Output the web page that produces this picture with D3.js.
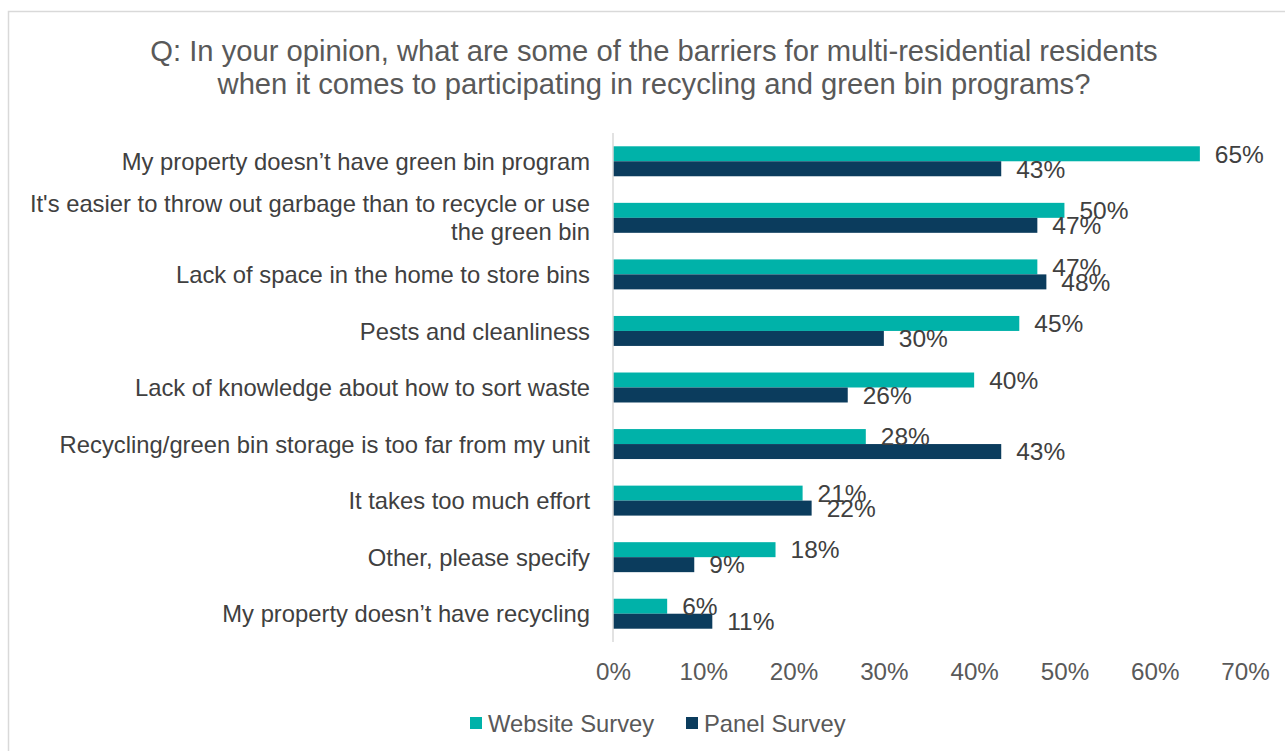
<!DOCTYPE html>
<html>
<head>
<meta charset="utf-8">
<script src="https://cdn.jsdelivr.net/npm/d3@7"></script>
<style>
  html, body { margin: 0; padding: 0; background: #fff; }
  svg { display: block; font-family: "Liberation Sans", Arial, sans-serif; }
</style>
</head>
<body>
<svg id="chart" width="1285" height="751"></svg>
<script>
// Survey responses: barriers to participating in recycling and green bin programs
const categories = [
  "My property doesn\u2019t have green bin program",
  "It's easier to throw out garbage than to recycle or use|the green bin",
  "Lack of space in the home to store bins",
  "Pests and cleanliness",
  "Lack of knowledge about how to sort waste",
  "Recycling/green bin storage is too far from my unit",
  "It takes too much effort",
  "Other, please specify",
  "My property doesn\u2019t have recycling"
];
const websiteSurvey = [65, 50, 47, 45, 40, 28, 21, 18, 6];
const panelSurvey   = [43, 47, 48, 30, 26, 43, 22, 9, 11];
const seriesNames = ["Website Survey", "Panel Survey"];
const seriesColors = ["#00B2A9", "#0B3C5D"];
const xTicks = [0, 10, 20, 30, 40, 50, 60, 70];
const titleLines = [
  "Q: In your opinion, what are some of the barriers for multi-residential residents",
  "when it comes to participating in recycling and green bin programs?"
];

const svg = d3.select("#chart");
const W = 1285, H = 751;
const FS = 23.8;

// chart border
svg.append("rect")
  .attr("x", 8.5).attr("y", 11.5)
  .attr("width", W + 10).attr("height", H + 10)
  .attr("fill", "#fff").attr("stroke", "#d9d9d9").attr("stroke-width", 1.5);

// title
svg.append("g").selectAll("text")
  .data(titleLines).join("text")
  .attr("x", 654).attr("y", (d, i) => 50 + i * 33)
  .attr("dy", "0.36em")
  .attr("text-anchor", "middle")
  .attr("font-size", 29.2)
  .attr("fill", "#595959")
  .text(d => d);

const x = d3.scaleLinear().domain([0, 70]).range([613, 1245]);
const y = d3.scaleBand().domain(d3.range(categories.length)).range([133, 642]).paddingInner(0.47).paddingOuter(0.235);
const sub = d3.scaleBand().domain([0, 1]).range([0, y.bandwidth()]);

const rows = categories.map((c, i) => ({ i, c, vals: [websiteSurvey[i], panelSurvey[i]] }));

// bars
const g = svg.append("g");
rows.forEach(r => {
  r.vals.forEach((v, s) => {
    g.append("rect")
      .attr("x", x(0))
      .attr("y", y(r.i) + sub(s))
      .attr("width", x(v) - x(0))
      .attr("height", sub.bandwidth())
      .attr("fill", seriesColors[s]);
  });
});

// value labels
rows.forEach(r => {
  r.vals.forEach((v, s) => {
    g.append("text")
      .attr("x", x(v) + 15)
      .attr("y", y(r.i) + sub(s) + sub.bandwidth() / 2)
      .attr("dy", "0.36em")
      .attr("font-size", 24.5)
      .attr("fill", "#404040")
      .text(v + "%");
  });
});

// vertical axis line
svg.append("line")
  .attr("x1", x(0)).attr("x2", x(0))
  .attr("y1", 133).attr("y2", 642)
  .attr("stroke", "#d9d9d9").attr("stroke-width", 1.5);

// category labels
rows.forEach(r => {
  const lines = r.c.split("|");
  const cy = y(r.i) + y.bandwidth() / 2;
  const lh = 28;
  lines.forEach((ln, k) => {
    svg.append("text")
      .attr("x", 590)
      .attr("y", cy + (k - (lines.length - 1) / 2) * lh)
      .attr("dy", "0.36em")
      .attr("text-anchor", "end")
      .attr("font-size", FS)
      .attr("fill", "#404040")
      .text(ln);
  });
});

// x axis tick labels
const xAxis = d3.axisBottom(x).tickValues(xTicks).tickFormat(d => d + "%").tickSize(0).tickPadding(0);
const ax = svg.append("g").attr("transform", "translate(0,671)").call(xAxis);
ax.select(".domain").remove();
ax.selectAll("text")
  .attr("font-size", 24.2)
  .attr("fill", "#595959")
  .attr("font-family", "Liberation Sans, Arial, sans-serif")
  .attr("dy", "0.36em")
  .attr("y", 0);

// legend
const legend = svg.append("g");
const legendPos = [[470, 488], [686, 704]];
seriesNames.forEach((name, s) => {
  legend.append("rect")
    .attr("x", legendPos[s][0]).attr("y", 717)
    .attr("width", 12).attr("height", 12)
    .attr("fill", seriesColors[s]);
  legend.append("text")
    .attr("x", legendPos[s][1]).attr("y", 723)
    .attr("dy", "0.36em")
    .attr("font-size", FS)
    .attr("fill", "#595959")
    .text(name);
});
</script>
</body>
</html>
